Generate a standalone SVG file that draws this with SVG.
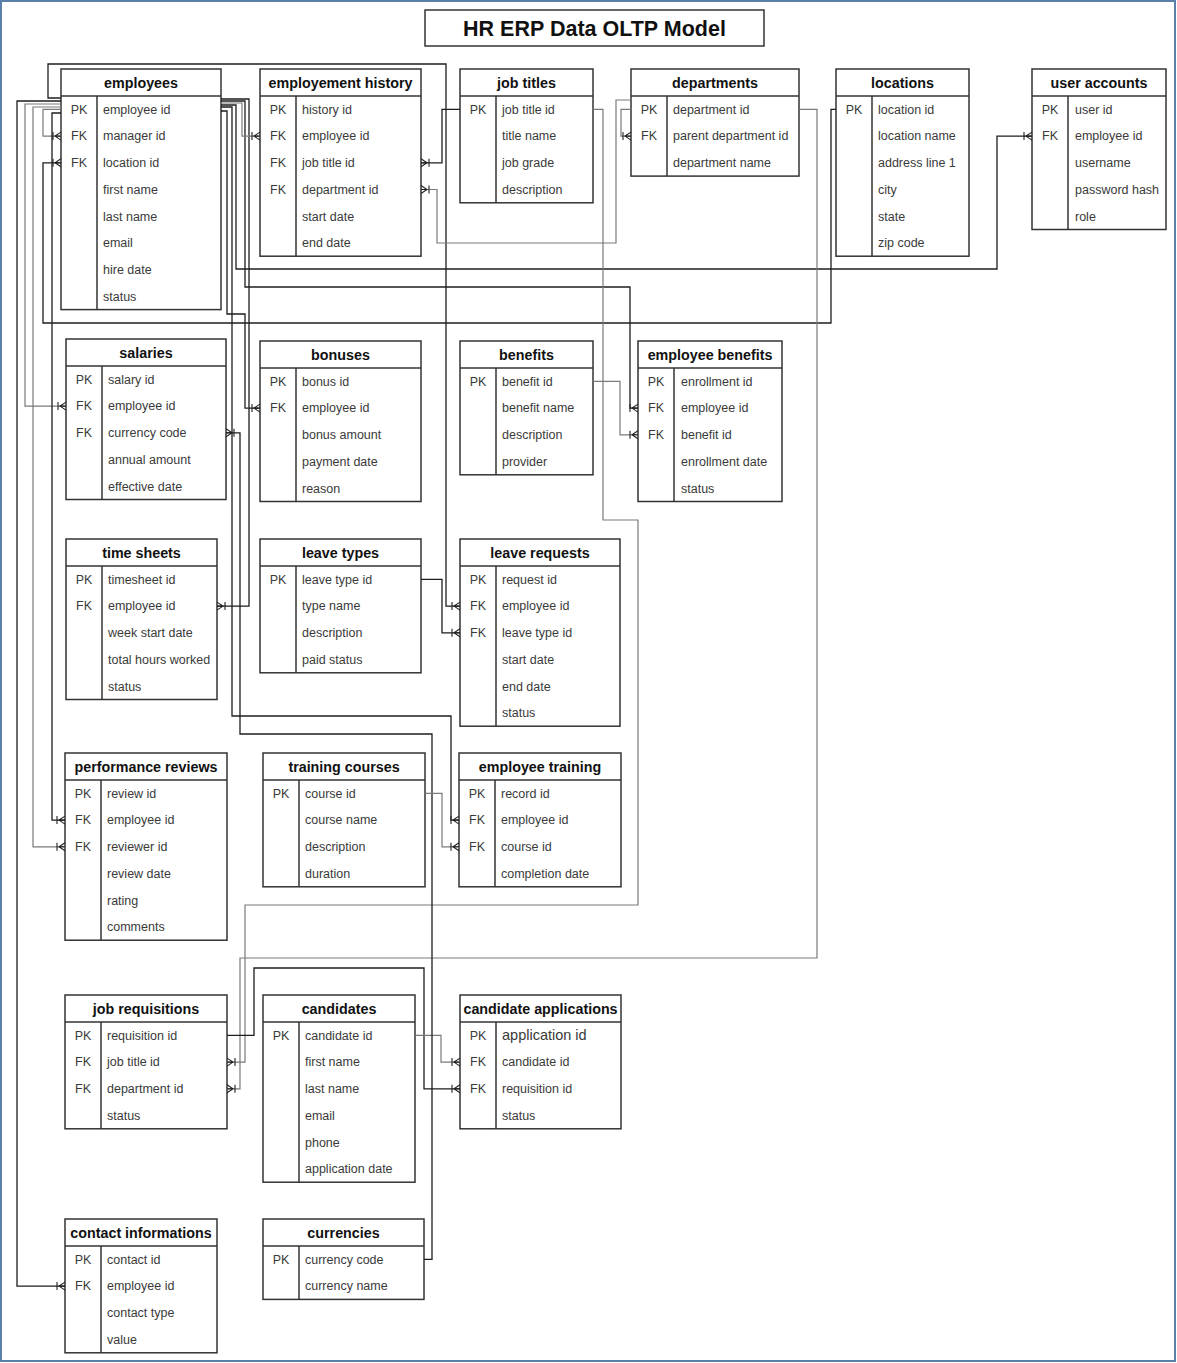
<svg xmlns="http://www.w3.org/2000/svg" width="1177" height="1363" viewBox="0 0 1177 1363">
<style>
.frame{fill:#fff;stroke:#5b7fa8;stroke-width:2}
.box{fill:#fff;stroke:#333;stroke-width:1.5}
.sep{stroke:#333;stroke-width:1.5}
.hdr{font-family:'Liberation Sans',Arial,sans-serif;font-weight:bold;font-size:14.3px;fill:#111;text-anchor:middle}
.ttl{font-family:'Liberation Sans',Arial,sans-serif;font-weight:bold;font-size:21.5px;fill:#111;text-anchor:middle}
.key{font-family:'Liberation Sans',Arial,sans-serif;font-size:12.5px;fill:#3a3a3a;text-anchor:middle}
.fld{font-family:'Liberation Sans',Arial,sans-serif;font-size:12.5px;fill:#3a3a3a}
.big{font-size:14.5px}
.c{fill:none;stroke:#1e1e1e;stroke-width:1.3}
.g{fill:none;stroke:#7a7a7a;stroke-width:1.2}
</style>
<defs>
<marker id="many" markerWidth="12" markerHeight="12" refX="11" refY="6" orient="auto" markerUnits="userSpaceOnUse">
<path d="M11,2 L5,6 L11,10 M5,6 H11 M3,2 V10" fill="none" stroke="#222" stroke-width="1.1"/>
</marker>
</defs>
<rect class="frame" x="1" y="1" width="1174" height="1360"/>
<g id="title">
<rect class="box" x="425" y="10" width="339" height="36"/>
<text class="ttl" x="594.5" y="35.5">HR ERP Data OLTP Model</text>
</g>

<g id="employees">
<rect class="box" x="61" y="69" width="160" height="240.6"/>
<line class="sep" x1="61" y1="96" x2="221" y2="96"/><line class="sep" x1="97" y1="96" x2="97" y2="309.6"/>
<text class="hdr" x="141" y="87.5">employees</text>
<text class="key" x="79" y="113.7">PK</text><text class="fld" x="103" y="113.7">employee id</text>
<text class="key" x="79" y="140.4">FK</text><text class="fld" x="103" y="140.4">manager id</text>
<text class="key" x="79" y="167.1">FK</text><text class="fld" x="103" y="167.1">location id</text>
<text class="fld" x="103" y="193.8">first name</text>
<text class="fld" x="103" y="220.5">last name</text>
<text class="fld" x="103" y="247.2">email</text>
<text class="fld" x="103" y="273.9">hire date</text>
<text class="fld" x="103" y="300.6">status</text>
</g>

<g id="employement-history">
<rect class="box" x="260" y="69" width="161" height="187.2"/>
<line class="sep" x1="260" y1="96" x2="421" y2="96"/><line class="sep" x1="296" y1="96" x2="296" y2="256.2"/>
<text class="hdr" x="340.5" y="87.5">employement history</text>
<text class="key" x="278" y="113.7">PK</text><text class="fld" x="302" y="113.7">history id</text>
<text class="key" x="278" y="140.4">FK</text><text class="fld" x="302" y="140.4">employee id</text>
<text class="key" x="278" y="167.1">FK</text><text class="fld" x="302" y="167.1">job title id</text>
<text class="key" x="278" y="193.8">FK</text><text class="fld" x="302" y="193.8">department id</text>
<text class="fld" x="302" y="220.5">start date</text>
<text class="fld" x="302" y="247.2">end date</text>
</g>

<g id="job-titles">
<rect class="box" x="460" y="69" width="133" height="133.8"/>
<line class="sep" x1="460" y1="96" x2="593" y2="96"/><line class="sep" x1="496" y1="96" x2="496" y2="202.8"/>
<text class="hdr" x="526.5" y="87.5">job titles</text>
<text class="key" x="478" y="113.7">PK</text><text class="fld" x="502" y="113.7">job title id</text>
<text class="fld" x="502" y="140.4">title name</text>
<text class="fld" x="502" y="167.1">job grade</text>
<text class="fld" x="502" y="193.8">description</text>
</g>

<g id="departments">
<rect class="box" x="631" y="69" width="168" height="107.1"/>
<line class="sep" x1="631" y1="96" x2="799" y2="96"/><line class="sep" x1="667" y1="96" x2="667" y2="176.1"/>
<text class="hdr" x="715" y="87.5">departments</text>
<text class="key" x="649" y="113.7">PK</text><text class="fld" x="673" y="113.7">department id</text>
<text class="key" x="649" y="140.4">FK</text><text class="fld" x="673" y="140.4">parent department id</text>
<text class="fld" x="673" y="167.1">department name</text>
</g>

<g id="locations">
<rect class="box" x="836" y="69" width="133" height="187.2"/>
<line class="sep" x1="836" y1="96" x2="969" y2="96"/><line class="sep" x1="872" y1="96" x2="872" y2="256.2"/>
<text class="hdr" x="902.5" y="87.5">locations</text>
<text class="key" x="854" y="113.7">PK</text><text class="fld" x="878" y="113.7">location id</text>
<text class="fld" x="878" y="140.4">location name</text>
<text class="fld" x="878" y="167.1">address line 1</text>
<text class="fld" x="878" y="193.8">city</text>
<text class="fld" x="878" y="220.5">state</text>
<text class="fld" x="878" y="247.2">zip code</text>
</g>

<g id="user-accounts">
<rect class="box" x="1032" y="69" width="134" height="160.5"/>
<line class="sep" x1="1032" y1="96" x2="1166" y2="96"/><line class="sep" x1="1068" y1="96" x2="1068" y2="229.5"/>
<text class="hdr" x="1099" y="87.5">user accounts</text>
<text class="key" x="1050" y="113.7">PK</text><text class="fld" x="1075" y="113.7">user id</text>
<text class="key" x="1050" y="140.4">FK</text><text class="fld" x="1075" y="140.4">employee id</text>
<text class="fld" x="1075" y="167.1">username</text>
<text class="fld" x="1075" y="193.8">password hash</text>
<text class="fld" x="1075" y="220.5">role</text>
</g>

<g id="salaries">
<rect class="box" x="66" y="339" width="160" height="160.5"/>
<line class="sep" x1="66" y1="366" x2="226" y2="366"/><line class="sep" x1="102" y1="366" x2="102" y2="499.5"/>
<text class="hdr" x="146" y="357.5">salaries</text>
<text class="key" x="84" y="383.7">PK</text><text class="fld" x="108" y="383.7">salary id</text>
<text class="key" x="84" y="410.4">FK</text><text class="fld" x="108" y="410.4">employee id</text>
<text class="key" x="84" y="437.1">FK</text><text class="fld" x="108" y="437.1">currency code</text>
<text class="fld" x="108" y="463.8">annual amount</text>
<text class="fld" x="108" y="490.5">effective date</text>
</g>

<g id="bonuses">
<rect class="box" x="260" y="341" width="161" height="160.5"/>
<line class="sep" x1="260" y1="368" x2="421" y2="368"/><line class="sep" x1="296" y1="368" x2="296" y2="501.5"/>
<text class="hdr" x="340.5" y="359.5">bonuses</text>
<text class="key" x="278" y="385.7">PK</text><text class="fld" x="302" y="385.7">bonus id</text>
<text class="key" x="278" y="412.4">FK</text><text class="fld" x="302" y="412.4">employee id</text>
<text class="fld" x="302" y="439.1">bonus amount</text>
<text class="fld" x="302" y="465.8">payment date</text>
<text class="fld" x="302" y="492.5">reason</text>
</g>

<g id="benefits">
<rect class="box" x="460" y="341" width="133" height="133.8"/>
<line class="sep" x1="460" y1="368" x2="593" y2="368"/><line class="sep" x1="496" y1="368" x2="496" y2="474.8"/>
<text class="hdr" x="526.5" y="359.5">benefits</text>
<text class="key" x="478" y="385.7">PK</text><text class="fld" x="502" y="385.7">benefit id</text>
<text class="fld" x="502" y="412.4">benefit name</text>
<text class="fld" x="502" y="439.1">description</text>
<text class="fld" x="502" y="465.8">provider</text>
</g>

<g id="employee-benefits">
<rect class="box" x="638" y="341" width="144" height="160.5"/>
<line class="sep" x1="638" y1="368" x2="782" y2="368"/><line class="sep" x1="674" y1="368" x2="674" y2="501.5"/>
<text class="hdr" x="710" y="359.5">employee benefits</text>
<text class="key" x="656" y="385.7">PK</text><text class="fld" x="681" y="385.7">enrollment id</text>
<text class="key" x="656" y="412.4">FK</text><text class="fld" x="681" y="412.4">employee id</text>
<text class="key" x="656" y="439.1">FK</text><text class="fld" x="681" y="439.1">benefit id</text>
<text class="fld" x="681" y="465.8">enrollment date</text>
<text class="fld" x="681" y="492.5">status</text>
</g>

<g id="time-sheets">
<rect class="box" x="66" y="539" width="151" height="160.5"/>
<line class="sep" x1="66" y1="566" x2="217" y2="566"/><line class="sep" x1="102" y1="566" x2="102" y2="699.5"/>
<text class="hdr" x="141.5" y="557.5">time sheets</text>
<text class="key" x="84" y="583.7">PK</text><text class="fld" x="108" y="583.7">timesheet id</text>
<text class="key" x="84" y="610.4">FK</text><text class="fld" x="108" y="610.4">employee id</text>
<text class="fld" x="108" y="637.1">week start date</text>
<text class="fld" x="108" y="663.8">total hours worked</text>
<text class="fld" x="108" y="690.5">status</text>
</g>

<g id="leave-types">
<rect class="box" x="260" y="539" width="161" height="133.8"/>
<line class="sep" x1="260" y1="566" x2="421" y2="566"/><line class="sep" x1="296" y1="566" x2="296" y2="672.8"/>
<text class="hdr" x="340.5" y="557.5">leave types</text>
<text class="key" x="278" y="583.7">PK</text><text class="fld" x="302" y="583.7">leave type id</text>
<text class="fld" x="302" y="610.4">type name</text>
<text class="fld" x="302" y="637.1">description</text>
<text class="fld" x="302" y="663.8">paid status</text>
</g>

<g id="leave-requests">
<rect class="box" x="460" y="539" width="160" height="187.2"/>
<line class="sep" x1="460" y1="566" x2="620" y2="566"/><line class="sep" x1="496" y1="566" x2="496" y2="726.2"/>
<text class="hdr" x="540" y="557.5">leave requests</text>
<text class="key" x="478" y="583.7">PK</text><text class="fld" x="502" y="583.7">request id</text>
<text class="key" x="478" y="610.4">FK</text><text class="fld" x="502" y="610.4">employee id</text>
<text class="key" x="478" y="637.1">FK</text><text class="fld" x="502" y="637.1">leave type id</text>
<text class="fld" x="502" y="663.8">start date</text>
<text class="fld" x="502" y="690.5">end date</text>
<text class="fld" x="502" y="717.2">status</text>
</g>

<g id="performance-reviews">
<rect class="box" x="65" y="753" width="162" height="187.2"/>
<line class="sep" x1="65" y1="780" x2="227" y2="780"/><line class="sep" x1="101" y1="780" x2="101" y2="940.2"/>
<text class="hdr" x="146" y="771.5">performance reviews</text>
<text class="key" x="83" y="797.7">PK</text><text class="fld" x="107" y="797.7">review id</text>
<text class="key" x="83" y="824.4">FK</text><text class="fld" x="107" y="824.4">employee id</text>
<text class="key" x="83" y="851.1">FK</text><text class="fld" x="107" y="851.1">reviewer id</text>
<text class="fld" x="107" y="877.8">review date</text>
<text class="fld" x="107" y="904.5">rating</text>
<text class="fld" x="107" y="931.2">comments</text>
</g>

<g id="training-courses">
<rect class="box" x="263" y="753" width="162" height="133.8"/>
<line class="sep" x1="263" y1="780" x2="425" y2="780"/><line class="sep" x1="299" y1="780" x2="299" y2="886.8"/>
<text class="hdr" x="344" y="771.5">training courses</text>
<text class="key" x="281" y="797.7">PK</text><text class="fld" x="305" y="797.7">course id</text>
<text class="fld" x="305" y="824.4">course name</text>
<text class="fld" x="305" y="851.1">description</text>
<text class="fld" x="305" y="877.8">duration</text>
</g>

<g id="employee-training">
<rect class="box" x="459" y="753" width="162" height="133.8"/>
<line class="sep" x1="459" y1="780" x2="621" y2="780"/><line class="sep" x1="495" y1="780" x2="495" y2="886.8"/>
<text class="hdr" x="540" y="771.5">employee training</text>
<text class="key" x="477" y="797.7">PK</text><text class="fld" x="501" y="797.7">record id</text>
<text class="key" x="477" y="824.4">FK</text><text class="fld" x="501" y="824.4">employee id</text>
<text class="key" x="477" y="851.1">FK</text><text class="fld" x="501" y="851.1">course id</text>
<text class="fld" x="501" y="877.8">completion date</text>
</g>

<g id="job-requisitions">
<rect class="box" x="65" y="995" width="162" height="133.8"/>
<line class="sep" x1="65" y1="1022" x2="227" y2="1022"/><line class="sep" x1="101" y1="1022" x2="101" y2="1128.8"/>
<text class="hdr" x="146" y="1013.5">job requisitions</text>
<text class="key" x="83" y="1039.7">PK</text><text class="fld" x="107" y="1039.7">requisition id</text>
<text class="key" x="83" y="1066.4">FK</text><text class="fld" x="107" y="1066.4">job title id</text>
<text class="key" x="83" y="1093.1">FK</text><text class="fld" x="107" y="1093.1">department id</text>
<text class="fld" x="107" y="1119.8">status</text>
</g>

<g id="candidates">
<rect class="box" x="263" y="995" width="152" height="187.2"/>
<line class="sep" x1="263" y1="1022" x2="415" y2="1022"/><line class="sep" x1="299" y1="1022" x2="299" y2="1182.2"/>
<text class="hdr" x="339" y="1013.5">candidates</text>
<text class="key" x="281" y="1039.7">PK</text><text class="fld" x="305" y="1039.7">candidate id</text>
<text class="fld" x="305" y="1066.4">first name</text>
<text class="fld" x="305" y="1093.1">last name</text>
<text class="fld" x="305" y="1119.8">email</text>
<text class="fld" x="305" y="1146.5">phone</text>
<text class="fld" x="305" y="1173.2">application date</text>
</g>

<g id="candidate-applications">
<rect class="box" x="460" y="995" width="161" height="133.8"/>
<line class="sep" x1="460" y1="1022" x2="621" y2="1022"/><line class="sep" x1="496" y1="1022" x2="496" y2="1128.8"/>
<text class="hdr" x="540.5" y="1013.5">candidate applications</text>
<text class="key" x="478" y="1039.7">PK</text><text class="fld big" x="502" y="1040.4">application id</text>
<text class="key" x="478" y="1066.4">FK</text><text class="fld" x="502" y="1066.4">candidate id</text>
<text class="key" x="478" y="1093.1">FK</text><text class="fld" x="502" y="1093.1">requisition id</text>
<text class="fld" x="502" y="1119.8">status</text>
</g>

<g id="contact-informations">
<rect class="box" x="65" y="1219" width="152" height="133.8"/>
<line class="sep" x1="65" y1="1246" x2="217" y2="1246"/><line class="sep" x1="101" y1="1246" x2="101" y2="1352.8"/>
<text class="hdr" x="141" y="1237.5">contact informations</text>
<text class="key" x="83" y="1263.7">PK</text><text class="fld" x="107" y="1263.7">contact id</text>
<text class="key" x="83" y="1290.4">FK</text><text class="fld" x="107" y="1290.4">employee id</text>
<text class="fld" x="107" y="1317.1">contact type</text>
<text class="fld" x="107" y="1343.8">value</text>
</g>

<g id="currencies">
<rect class="box" x="263" y="1219" width="161" height="80.4"/>
<line class="sep" x1="263" y1="1246" x2="424" y2="1246"/><line class="sep" x1="299" y1="1246" x2="299" y2="1299.4"/>
<text class="hdr" x="343.5" y="1237.5">currencies</text>
<text class="key" x="281" y="1263.7">PK</text><text class="fld" x="305" y="1263.7">currency code</text>
<text class="fld" x="305" y="1290.4">currency name</text>
</g>

<g id="connectors">
<path class="c" d="M61,98 H48 V64 H446 V606.1 H460" marker-end="url(#many)"/>
<path class="c" d="M61,101 H17 V1286.1 H65" marker-end="url(#many)"/>
<path class="g" d="M61,104 H25 V406.1 H66" marker-end="url(#many)"/>
<path class="g" d="M61,107 H33 V846.8 H65" marker-end="url(#many)"/>
<path class="g" d="M61,109.4 H43 V136.1 H61" marker-end="url(#many)"/>
<path class="c" d="M61,113 H52 V820.1 H65" marker-end="url(#many)"/>
<path class="c" d="M836,109.4 H831 V323 H43 V162.8 H61" marker-end="url(#many)"/>
<path class="c" d="M221,99 H249 V606.1 H217" marker-end="url(#many)"/>
<path class="c" d="M221,101 H245 V287 H630 V408.1 H638" marker-end="url(#many)"/>
<path class="g" d="M221,103 H242 V136.1 H260" marker-end="url(#many)"/>
<path class="c" d="M221,105 H236 V269 H997 V136.1 H1032" marker-end="url(#many)"/>
<path class="c" d="M221,107 H232 V716 H451 V820.1 H459" marker-end="url(#many)"/>
<path class="c" d="M221,111 H227 V314 H245 V408.1 H260" marker-end="url(#many)"/>
<path class="c" d="M460,109.4 H442 V162.8 H421" marker-end="url(#many)"/>
<path class="g" d="M631,100 H616 V243 H437 V189.5 H421" marker-end="url(#many)"/>
<path class="g" d="M631,109.4 H621 V136.1 H631" marker-end="url(#many)"/>
<path class="g" d="M593,109.4 H603 V520 H638 V905 H245 V1062.1 H227" marker-end="url(#many)"/>
<path class="g" d="M799,109.4 H817 V958 H240 V1088.8 H227" marker-end="url(#many)"/>
<path class="c" d="M227,1035.4 H254 V968 H424 V1088.8 H460" marker-end="url(#many)"/>
<path class="g" d="M415,1035.4 H441 V1062.1 H460" marker-end="url(#many)"/>
<path class="c" d="M424,1259.4 H432 V734 H240 V432.8 H226" marker-end="url(#many)"/>
<path class="g" d="M425,793.4 H442 V846.8 H459" marker-end="url(#many)"/>
<path class="c" d="M421,579.4 H442 V632.8 H460" marker-end="url(#many)"/>
<path class="g" d="M593,381.4 H620 V434.8 H638" marker-end="url(#many)"/>
</g>
</svg>
